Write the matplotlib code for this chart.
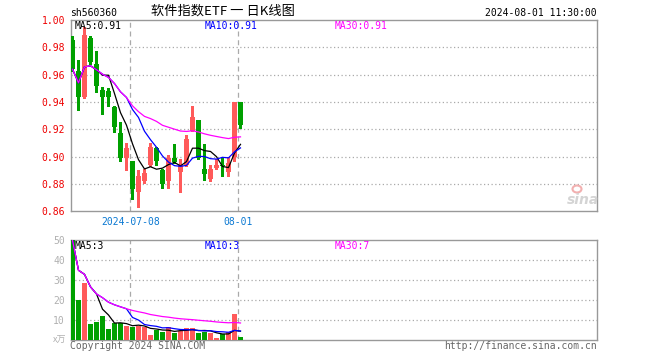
import numpy as np
import matplotlib
matplotlib.use('Agg')
import matplotlib.pyplot as plt
from matplotlib.patches import Ellipse

# ---------------- data ----------------
opens  = [0.985, 0.963, 0.944, 0.987, 0.968, 0.949, 0.948, 0.936, 0.917, 0.899,
          0.897, 0.874, 0.882, 0.894, 0.906, 0.890, 0.882, 0.899, 0.889, 0.894,
          0.919, 0.927, 0.891, 0.884, 0.892, 0.894, 0.889, 0.900, 0.940]
closes = [0.964, 0.944, 0.989, 0.969, 0.952, 0.944, 0.944, 0.922, 0.899, 0.906,
          0.876, 0.886, 0.888, 0.907, 0.897, 0.880, 0.899, 0.896, 0.894, 0.913,
          0.929, 0.899, 0.887, 0.891, 0.894, 0.893, 0.895, 0.940, 0.923]
highs  = [0.988, 0.971, 0.995, 0.988, 0.977, 0.951, 0.950, 0.937, 0.925, 0.910,
          0.897, 0.890, 0.891, 0.910, 0.907, 0.891, 0.901, 0.909, 0.898, 0.916,
          0.937, 0.927, 0.909, 0.894, 0.898, 0.899, 0.900, 0.940, 0.940]
lows   = [0.963, 0.934, 0.943, 0.968, 0.947, 0.931, 0.937, 0.918, 0.897, 0.890,
          0.869, 0.863, 0.881, 0.893, 0.894, 0.877, 0.877, 0.895, 0.874, 0.893,
          0.919, 0.898, 0.883, 0.882, 0.891, 0.886, 0.886, 0.897, 0.921]
volumes = [50.0, 19.8, 28.7, 7.65, 8.65, 11.65, 5.15, 8.3, 8.3, 6.65,
           6.3, 6.65, 6.15, 2.3, 5.0, 3.8, 6.15, 3.15, 4.3, 5.7,
           5.7, 3.5, 3.6, 3.3, 0.8, 2.65, 3.65, 12.65, 1.15]

date_label_idx = [10, 28]
date_labels = ["2024-07-08", "08-01"]
price_ticks = [0.86, 0.88, 0.90, 0.92, 0.94, 0.96, 0.98, 1.00]
price_tick_labels = ["0.86", "0.88", "0.90", "0.92", "0.94", "0.96", "0.98", "1.00"]
vol_ticks = [10, 20, 30, 40, 50]
vol_tick_labels = ["10", "20", "30", "40", "50"]

code = "sh560360"
title = "软件指数ETF 一 日K线图"
timestamp = "2024-08-01 11:30:00"
price_ma_texts = ["MA5:0.91", "MA10:0.91", "MA30:0.91"]
vol_ma_texts = ["MA5:3", "MA10:3", "MA30:7"]
vol_unit = "x万"

# ---------------- style ----------------
W, H = 660, 360
UP, DOWN = '#ff5a5a', '#00a000'
GRID = '#aaaaaa'
SPINE = '#999999'
MA_COLORS = ['black', '#0000ff', '#ff00ff']
MONO = 'DejaVu Sans Mono'
CJK = ['Noto Sans CJK SC', 'DejaVu Sans']


def ma(arr, n):
    a = np.asarray(arr, dtype=float)
    return np.array([a[max(0, i - n + 1):i + 1].mean() for i in range(len(a))])


def fx(px):
    return px / W


def fy(py):
    return 1 - py / H


fig = plt.figure(figsize=(W / 100, H / 100), dpi=100)
fig.patch.set_facecolor('white')

left, right = 70.5, 597.3
ax = fig.add_axes([fx(left), fy(211.3), (right - left) / W, (211.3 - 20) / H])
axv = fig.add_axes([fx(left), fy(339.5), (right - left) / W, (339.5 - 240.3) / H])

x = np.arange(len(closes))
o = np.array(opens); c = np.array(closes)
hi = np.array(highs); lo = np.array(lows)
up = c >= o
colors = np.where(up, UP, DOWN)
xlim = (-0.333, 87.47)

# candles
ax.vlines(x, lo, hi, colors=colors, linewidth=0.9, zorder=3, antialiased=False)
body_bottom = np.minimum(o, c)
body_h = np.maximum(np.abs(c - o), 0.0005)
ax.bar(x, body_h, bottom=body_bottom, width=0.83, color=colors,
       edgecolor='none', zorder=4, antialiased=False)

for n, col in zip([5, 10, 30], MA_COLORS):
    ax.plot(x, ma(closes, n), color=col, linewidth=0.9, zorder=5)

ax.set_xlim(*xlim)
ax.set_ylim(price_ticks[0], price_ticks[-1])
ax.set_yticks(price_ticks)
ax.set_yticklabels(price_tick_labels, fontsize=7, family=MONO, color='#ee0000')
for t in price_ticks[1:-1]:
    ax.axhline(t, color=GRID, linestyle=(0, (1, 2)), linewidth=0.9, zorder=1)
ax.set_xticks([i - 0.35 for i in date_label_idx])
ax.set_xticklabels(date_labels, fontsize=7, family=MONO, color='#0a78d2')
ax.tick_params(axis='both', length=0, pad=4)
ax.tick_params(axis='x', pad=4)

# volume
axv.bar(x, volumes, width=0.83, color=colors, edgecolor='none', zorder=4,
        antialiased=False)
for n, col in zip([5, 10, 30], MA_COLORS):
    axv.plot(x, ma(volumes, n), color=col, linewidth=0.9, zorder=5)
axv.set_xlim(*xlim)
axv.set_ylim(0, 50)
axv.set_yticks(vol_ticks)
axv.set_yticklabels(vol_tick_labels, fontsize=7, family=MONO, color='#b0b0b0')
axv.set_xticks([])
axv.tick_params(axis='both', length=0, pad=4)
for t in vol_ticks[:-1]:
    axv.axhline(t, color=GRID, linestyle=(0, (1, 2)), linewidth=0.9, zorder=1)

for a in (ax, axv):
    for i in date_label_idx:
        a.axvline(i - 0.35, color=GRID, linestyle=(0, (4, 3)), linewidth=0.9, zorder=1)
    for s in a.spines.values():
        s.set_color(SPINE)
        s.set_linewidth(1.0)
    a.set_facecolor('white')

# texts
fig.text(fx(70), fy(13.5), code, fontsize=7, family=MONO, va='center', ha='left')
fig.text(fx(223), fy(11), title, fontsize=9.5, family=CJK, va='center', ha='center')
fig.text(fx(597), fy(12.5), timestamp, fontsize=7, family=MONO, va='center', ha='right')

for px, txt, col in zip([75, 205, 335], price_ma_texts, MA_COLORS):
    fig.text(fx(px), fy(26.4), txt, fontsize=7, family=MONO, color=col,
             va='center', ha='left', zorder=10)
for px, txt, col in zip([75, 205, 335], vol_ma_texts, MA_COLORS):
    fig.text(fx(px), fy(246.4), txt, fontsize=7, family=MONO, color=col,
             va='center', ha='left', zorder=10)

fig.text(fx(66), fy(340), vol_unit, fontsize=6.5, family=CJK, color='#b0b0b0',
         va='center', ha='right')
fig.text(fx(70), fy(346), "Copyright 2024 SINA.COM", fontsize=7, family=MONO,
         color='#666666', va='center', ha='left')
fig.text(fx(597), fy(346), "http://finance.sina.com.cn", fontsize=7, family=MONO,
         color='#666666', va='center', ha='right')

# sina watermark
fig.text(fx(583), fy(200), "sina", fontsize=10, style='italic', weight='bold',
         color='#d4d4d4', va='center', ha='center')
fig.add_artist(Ellipse((fx(577), fy(189)), 9 / W, 7 / H, transform=fig.transFigure,
                       facecolor='none', edgecolor='#f2b0b0', linewidth=1.5))

fig.savefig('out.png', dpi=100, facecolor='white')
